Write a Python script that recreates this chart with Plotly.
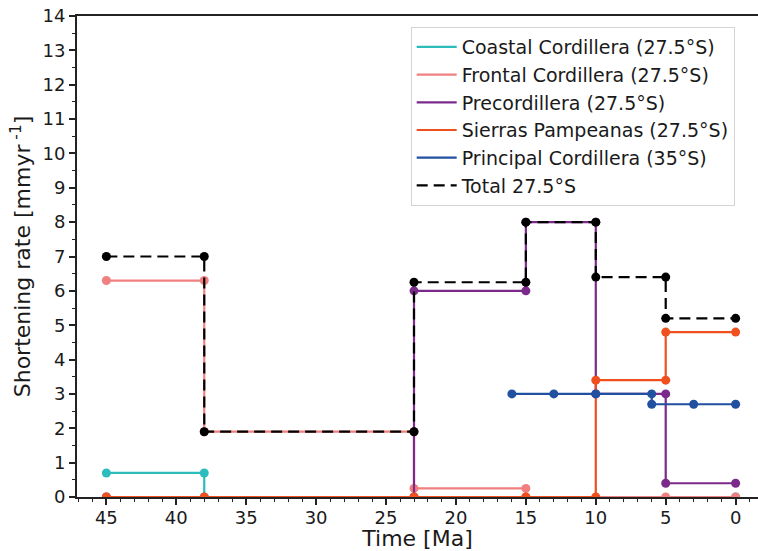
import plotly.graph_objects as go

# Step-wise shortening-rate histories (time in Ma, rate in mm/yr)
coastal_t = [45, 38, 38, 0]
coastal_r = [0.7, 0.7, 0.0, 0.0]

frontal_t = [45, 38, 38, 23, 23, 15, 15, 5, 0]
frontal_r = [6.3, 6.3, 1.9, 1.9, 0.25, 0.25, 0.0, 0.0, 0.0]

precord_t = [45, 23, 23, 15, 15, 10, 10, 5, 5, 0]
precord_r = [0.0, 0.0, 6.0, 6.0, 8.0, 8.0, 3.0, 3.0, 0.4, 0.4]

sierras_t = [45, 38, 23, 15, 10, 10, 5, 5, 0]
sierras_r = [0.0, 0.0, 0.0, 0.0, 0.0, 3.4, 3.4, 4.8, 4.8]

principal_t = [16, 13, 10, 6, 6, 3, 0]
principal_r = [3.0, 3.0, 3.0, 3.0, 2.7, 2.7, 2.7]

total_t = [45, 38, 38, 23, 23, 15, 15, 10, 10, 5, 5, 0]
total_r = [7.0, 7.0, 1.9, 1.9, 6.25, 6.25, 8.0, 8.0, 6.4, 6.4, 5.2, 5.2]

series = [
    ("Coastal Cordillera (27.5°S)", coastal_t, coastal_r, "#2cbcbc", "solid"),
    ("Frontal Cordillera (27.5°S)", frontal_t, frontal_r, "#f08080", "solid"),
    ("Precordillera (27.5°S)", precord_t, precord_r, "#7b2a8c", "solid"),
    ("Sierras Pampeanas (27.5°S)", sierras_t, sierras_r, "#f0501e", "solid"),
    ("Principal Cordillera (35°S)", principal_t, principal_r, "#2150a0", "solid"),
    ("Total 27.5°S", total_t, total_r, "#000000", "dash"),
]

DASH = "11px,6px"

fig = go.Figure()
for name, t, r, color, dash in series:
    fig.add_trace(go.Scatter(
        x=t, y=r, mode="lines+markers", name=name, showlegend=False,
        line=dict(color=color, width=2.2, dash=DASH if dash == "dash" else "solid"),
        marker=dict(color=color, size=9),
    ))
# Legend entries show the line style only
for name, t, r, color, dash in series:
    fig.add_trace(go.Scatter(
        x=[None], y=[None], mode="lines", name=name,
        line=dict(color=color, width=2.2, dash=DASH if dash == "dash" else "solid"),
    ))

FAMILY = "DejaVu Sans, Arial, sans-serif"
font = dict(family=FAMILY, size=18, color="#1a1a1a")

fig.update_layout(
    width=758, height=551,
    margin=dict(l=77, r=0, t=16, b=54),
    paper_bgcolor="white", plot_bgcolor="white",
    font=font,
    showlegend=True,
    legend=dict(
        x=0.49, xanchor="left", y=0.977, yanchor="top",
        bordercolor="#d4d4d4", borderwidth=1, bgcolor="white",
        font=dict(family=FAMILY, size=19, color="#1a1a1a"),
        itemwidth=40,
    ),
    xaxis=dict(
        range=[47.1, -1.6], tickmode="array", tickvals=[45, 40, 35, 30, 25, 20, 15, 10, 5, 0],
        ticks="outside", ticklen=6, tickwidth=1.5, tickcolor="#222",
        minor=dict(dtick=1, ticks="outside", ticklen=3, tickwidth=1.2, tickcolor="#222"),
        showline=True, linecolor="#222", linewidth=2, mirror=True,
        showgrid=False, zeroline=False,
        ticklabelstandoff=-3,
        title=dict(text="Time [Ma]", standoff=4),
        tickfont=font,
    ),
    yaxis=dict(
        range=[0, 14], dtick=1,
        ticks="outside", ticklen=6, tickwidth=1.5, tickcolor="#222",
        minor=dict(dtick=0.5, ticks="outside", ticklen=3, tickwidth=1.2, tickcolor="#222"),
        showline=True, linecolor="#222", linewidth=2,
        showgrid=False, zeroline=False,
        title=dict(text="Shortening rate [mmyr<sup> -1</sup>]", standoff=6),
        tickfont=font,
    ),
)

fig.write_html("out.html")
